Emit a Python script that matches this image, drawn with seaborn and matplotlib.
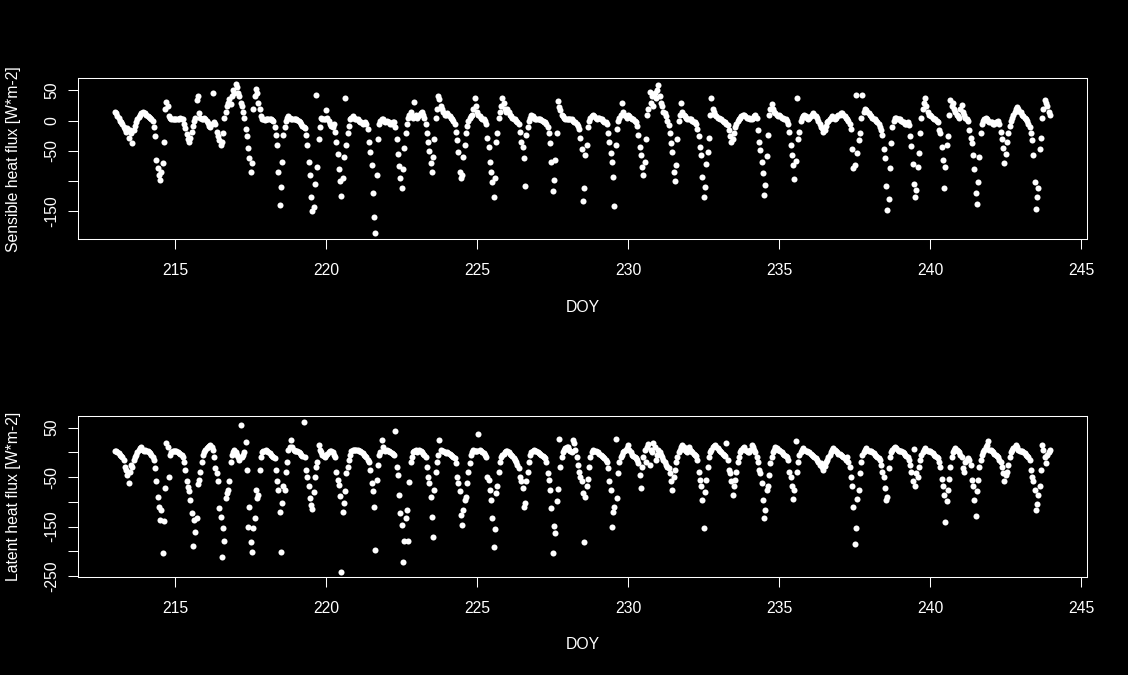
import matplotlib
matplotlib.use("Agg")
import matplotlib.pyplot as plt
import pandas as pd
import seaborn as sns

# half-day resolution is too dense to read; values are hourly estimates off the plot
days = list(range(213, 244))
hours = list(range(24))

# Sensible heat flux [W*m-2], one row per day (hour 0..23)
sensible_flux = [
    15, 12, 8, 4, 0, -3, -6, -10, -14, -18, -12, -28, -16, -20, -37, -15, -8, -2, 3, 6, 10, 13, 15, 12,          # 213
    12, 10, 8, 6, 5, 3, 0, -10, -26, -65, -78, -90, -98, -85, -70, -35, 20, 31, 25, 8, 5, 3, 2, 3,               # 214
    3, 2, 2, 3, 4, 3, 2, -5, -12, -22, -30, -35, -28, -18, -8, 0, 5, 34, 40, 12, 5, 3, 2, 4,                     # 215
    2, 0, -4, -8, -10, -6, 45, -2, -5, -18, -25, -32, -40, -35, -20, 5, 15, 25, 30, 35, 28, 40, 50, 45,          # 216
    60, 55, 45, 40, 30, 25, 15, 5, -13, -25, -45, -62, -85, -70, 20, 40, 53, 45, 30, 20, 8, 3, 2, 1,             # 217
    3, 2, 2, 3, 2, 1, 0, -10, -24, -40, -85, -139, -110, -68, -24, -10, 0, 5, 8, 5, 3, 2, 2, 3,                  # 218
    2, 1, 0, -2, -5, -8, -10, -12, -24, -40, -68, -90, -126, -150, -142, -104, 43, -76, -30, -10, 5, 3, 2, 2,    # 219
    18, 5, 0, -5, -8, -10, -5, -18, -35, -55, -80, -100, -125, -95, -60, 37, -40, -20, -8, 2, 5, 8, 5, 3,        # 220
    3, 2, 0, -2, -3, -5, -4, -3, -5, -13, -35, -51, -73, -120, -160, -186, -90, -30, -5, 0, 3, 2, 0, -2,         # 221
    0, -2, -3, -5, -5, -3, -2, -10, -30, -55, -75, -95, -112, -80, -45, -20, -5, 5, 10, 15, 8, 5, 31, 10,        # 222
    5, 8, 10, 12, 15, 10, 5, -5, -20, -35, -50, -70, -84, -60, -30, 5, 20, 40, 35, 25, 20, 15, 10, 10,           # 223
    12, 10, 8, 5, 3, 0, -5, -18, -32, -51, -84, -95, -90, -60, -40, -20, -8, 0, 5, 8, 10, 20, 38, 25,            # 224
    15, 10, 8, 5, 3, 2, 0, -5, -29, -43, -68, -84, -101, -126, -95, -35, -20, 5, 15, 25, 37, 30, 20, 15,         # 225
    20, 15, 10, 8, 5, 3, 2, 0, -3, -5, -18, -35, -43, -62, -108, -24, -10, 0, 5, 10, 8, 5, 3, 2,                 # 226
    3, 2, 2, 1, 0, -2, -3, -5, -10, -20, -37, -68, -116, -98, -65, -20, 32, 23, 18, 10, 8, 5, 3, 2,              # 227
    2, 3, 3, 2, 0, -2, -3, -5, -8, -13, -29, -46, -132, -112, -57, -40, -10, 0, 5, 8, 10, 8, 5, 3,               # 228
    5, 5, 3, 2, 0, -2, -3, -5, -20, -35, -54, -68, -93, -141, -40, -13, 0, 5, 10, 30, 15, 10, 8, 5,              # 229
    10, 8, 5, 3, 2, 0, -3, -8, -24, -43, -57, -76, -89, -68, -30, 10, 20, 48, 30, 40, 25, 45, 38, 50,            # 230
    59, 40, 30, 25, 15, 12, 8, 0, -7, -21, -37, -51, -84, -100, -73, -30, 0, 10, 29, 15, 10, 8, 5, 3,            # 231
    3, 2, 2, 0, -2, -3, -5, -13, -26, -43, -57, -93, -126, -110, -71, -51, -29, 10, 37, 20, 15, 10, 8, 5,        # 232
    5, 3, 2, 0, -2, -3, -5, -7, -15, -25, -35, -30, -20, -10, -5, 0, 3, 5, 8, 10, 10, 8, 5, 5,                   # 233
    5, 3, 3, 5, 8, 10, 5, -15, -35, -48, -68, -87, -122, -106, -59, -23, 10, 20, 27, 20, 15, 12, 10, 8,          # 234
    10, 8, 5, 5, 3, 2, 0, -5, -18, -40, -57, -73, -97, -67, 38, -30, -18, 0, 5, 8, 10, 8, 5, 3,                  # 235
    5, 8, 10, 12, 10, 8, 5, 0, -5, -10, -12, -18, -15, -8, -3, 0, 3, 5, 8, 5, 3, 5, 8, 10,                       # 236
    10, 12, 12, 10, 8, 5, 3, 0, -5, -13, -46, -79, -73, 42, -54, -32, -21, 5, 42, 15, 20, 18, 15, 12,            # 237
    10, 8, 5, 3, 2, 0, -2, -5, -10, -15, -24, -46, -62, -108, -148, -130, -78, -37, -10, 0, 5, 5, 3, 2,          # 238
    2, 0, -2, -3, -5, -5, -3, -7, -26, -42, -72, -104, -126, -115, -77, -54, -21, 5, 20, 30, 38, 25, 15, 10,     # 239
    10, 8, 5, 3, 2, 0, -3, -15, -21, -43, -65, -112, -76, -40, -26, 10, 34, 25, 30, 20, 15, 10, 8, 5,            # 240
    20, 26, 15, 10, 5, 3, 0, -15, -29, -37, -57, -80, -120, -137, -101, -60, -20, -5, 0, 3, 5, 3, 0, -2,         # 241
    -2, -3, -5, -5, -3, -2, 0, -5, -18, -30, -45, -70, -55, -35, -20, -8, 0, 5, 10, 15, 20, 22, 20, 15,          # 242
    15, 10, 8, 5, 3, 0, -5, -10, -21, -32, -57, -101, -146, -126, -112, -47, -29, 4, 20, 34, 30, 25, 15, 10,     # 243
]

# Latent heat flux [W*m-2], one row per day (hour 0..23)
latent_flux = [
    3, 2, 0, -2, -5, -8, -10, -15, -29, -35, -45, -63, -40, -25, -29, -15, -10, -5, 0, 5, 8, 10, 5, 2,                  # 213
    5, 3, 2, 0, -2, -5, -10, -15, -32, -59, -90, -110, -137, -116, -204, -138, -73, 18, 10, -49, -5, 0, 2, 3,           # 214
    3, 2, 0, -2, -3, -5, -10, -19, -36, -59, -70, -79, -96, -123, -189, -137, -162, -133, -65, -56, -40, -19, -5, 0,    # 215
    5, 8, 10, 12, 15, 10, 5, -10, -32, -42, -59, -113, -130, -211, -154, -179, -93, -83, -76, -59, -20, -5, 0, 5,       # 216
    0, -5, -10, -15, 55, -10, -5, 0, 21, -36, -151, -110, -182, -202, -154, -133, -76, -93, -86, -36, -10, 0, 3, 2,     # 217
    5, 3, 0, -2, -5, -8, -10, -12, -36, -59, -76, -121, -202, -103, -69, -76, -40, -20, 5, 10, 25, 10, 5, 3,            # 218
    3, 2, 0, -2, -5, -8, 61, -10, -36, -49, -69, -93, -106, -115, -80, -50, -30, -20, 15, 5, 0, -5, -8, -10,            # 219
    -5, -3, 0, 2, 3, 0, -5, -10, -39, -56, -66, -88, -241, -120, -103, -79, -42, -30, -15, -5, 3, 5, 5, 5,              # 220
    5, 5, 3, 2, 0, -2, -5, -8, -10, -15, -19, -36, -63, -79, -111, -197, -56, -26, -5, 0, 25, 10, 5, 3,                 # 221
    5, 3, 2, 0, -2, -3, -5, 43, -29, -46, -86, -123, -147, -221, -180, -133, -116, -179, -60, -20, -10, 0, 3, 5,        # 222
    0, 3, 5, 3, 0, -3, -5, -10, -29, -49, -63, -90, -130, -172, -76, -39, -20, -5, 25, 5, 3, 2, 0, -2,                  # 223
    0, -2, -3, -5, -8, -10, -12, -22, -49, -63, -79, -127, -147, -117, -96, -90, -63, -39, -22, -5, 0, 5, 3, 2,         # 224
    3, 36, 5, 2, 0, -2, -5, -10, -49, -56, -76, -96, -133, -191, -155, -83, -69, -40, -20, -10, -5, -3, 0, 2,           # 225
    2, 0, -3, -5, -8, -12, -15, -20, -26, -32, -49, -59, -73, -110, -103, -59, -40, -20, -5, 0, 3, 5, 3, 2,             # 226
    0, -2, -3, -5, -8, -10, -12, -20, -42, -56, -76, -113, -204, -149, -164, -98, -75, 26, -30, -10, 0, 5, 8, 10,       # 227
    10, 5, 3, 0, 25, 18, 5, -10, -26, -39, -49, -59, -83, -182, -91, -69, -53, -30, -10, 0, 5, 3, 2, 0,                 # 228
    0, -3, -5, -8, -10, -12, -15, -20, -32, -59, -76, -150, -121, -110, 26, -93, -42, -20, -10, -5, 0, 3, 5, 8,         # 229
    15, 5, 0, -5, -8, -10, -12, -15, -22, -46, -73, -30, -10, 5, -20, 10, 16, -25, 5, 0, 18, 10, -15, -5,               # 230
    5, 0, -5, -10, -15, -20, -25, -29, -32, -42, -59, -76, -50, -35, -20, -10, 0, 5, 10, 15, 10, 5, 3, 0,               # 231
    11, 5, 3, 0, -3, -5, -8, -15, -39, -56, -69, -96, -153, -80, -56, -30, -10, 0, 5, 10, 12, 15, 10, 8,                # 232
    5, 3, 0, -3, -5, -8, 18, -15, -36, -42, -59, -86, -69, -56, -40, -20, -10, 0, 5, 8, 10, 5, 3, 0,                    # 233
    0, 5, 15, 10, 5, 0, -10, -19, -36, -42, -63, -96, -133, -116, -76, -69, -46, -22, -10, 0, 5, 10, 8, 5,              # 234
    5, 3, 0, -3, -5, -8, -10, -15, -39, -49, -69, -95, -76, 22, -40, -20, -5, 0, 5, 8, 5, 3, 2, 0,                      # 235
    0, -3, -5, -8, -10, -12, -15, -20, -25, -22, -30, -36, -28, -20, -15, -10, -5, 0, 5, 8, 5, 3, 0, -3,                # 236
    -3, -5, -8, -10, -12, -15, -10, -20, -29, -49, -69, -111, -186, -154, -95, -76, -42, -20, -5, 0, 5, 8, 5, 3,        # 237
    3, 2, 0, -2, -5, -8, -10, -12, -15, -25, -39, -49, -73, -96, -90, -32, -10, 0, 5, 8, 10, 8, 5, 3,                   # 238
    3, 2, 0, -2, -5, -8, -10, -15, -25, -39, -59, 6, -69, -42, -50, -30, -15, -5, 0, 5, 8, 5, 3, 2,                     # 239
    2, 0, -2, -5, -8, -10, -12, -20, -30, -53, -69, -86, -141, -98, -76, -53, -30, -10, 0, 5, 8, 5, 3, 0,               # 240
    -5, -10, -32, -39, -20, -15, -12, -15, -25, -56, -69, -96, -129, -79, -56, -30, -15, -5, 0, 5, 10, 15, 22, 5,       # 241
    5, 3, 0, -3, -5, -8, -10, -15, -20, -29, -42, -59, -45, -39, -25, -10, 0, 5, 8, 10, 15, 11, 5, 3,                   # 242
    3, 2, 0, -2, -5, -8, -10, -15, -36, -49, -59, -76, -117, -105, -86, -69, -36, 15, 5, -10, -22, -5, 0, 5,            # 243
]

doy_ticks = [215, 220, 225, 230, 235, 240, 245]
sens_ticks = [-150, -100, -50, 0, 50]
sens_tick_labels = ["-150", "", "-50", "0", "50"]
lat_ticks = [-250, -200, -150, -100, -50, 0, 50]
lat_tick_labels = ["-250", "", "-150", "", "-50", "", "50"]

doy = [d + h / 24 for d in days for h in hours]
df = pd.DataFrame({"DOY": doy, "H": sensible_flux, "LE": latent_flux})

sns.set_style("ticks")
plt.rcParams.update({
    "figure.facecolor": "black",
    "axes.facecolor": "black",
    "axes.edgecolor": "white",
    "axes.linewidth": 0.75,
    "axes.labelcolor": "white",
    "text.color": "white",
    "xtick.color": "white",
    "ytick.color": "white",
})
plt.rcParams["font.family"] = ["Liberation Sans", "DejaVu Sans"]

fig = plt.figure(figsize=(11.28, 6.75), dpi=100)
ax1 = fig.add_axes([0.0694, 0.6455, 0.8945, 0.2385])
ax2 = fig.add_axes([0.0694, 0.1452, 0.8945, 0.2385])


def draw_panel(ax, col, ylabel, yticks, ylabels, ylim):
    sns.scatterplot(data=df, x="DOY", y=col, ax=ax, color="white",
                    s=19, linewidth=0, legend=False)
    ax.set_xlim(211.79, 245.2)
    ax.set_ylim(*ylim)
    ax.set_xticks(doy_ticks)
    ax.set_xticklabels([str(t) for t in doy_ticks])
    ax.set_yticks(yticks)
    ax.set_yticklabels(ylabels, rotation=90, va="center")
    ax.tick_params(axis="both", direction="out", length=7.2, width=0.75,
                   colors="white", labelsize=11.3)
    ax.tick_params(axis="x", pad=10)
    ax.tick_params(axis="y", pad=6.5)
    for sp in ax.spines.values():
        sp.set_visible(True)
        sp.set_color("white")
        sp.set_linewidth(0.75)
    ax.set_xlabel("DOY", fontsize=11.3, va="center")
    ax.xaxis.set_label_coords(0.5, -0.4224)
    ax.set_ylabel(ylabel, fontsize=11.3, va="center")
    ax.yaxis.set_label_coords(-0.0642, 0.5)


draw_panel(ax1, "H", "Sensible heat flux [W*m-2]", sens_ticks, sens_tick_labels, (-196, 70))
draw_panel(ax2, "LE", "Latent heat flux [W*m-2]", lat_ticks, lat_tick_labels, (-252, 73.3))

fig.savefig("out.png", dpi=100, facecolor="black")
